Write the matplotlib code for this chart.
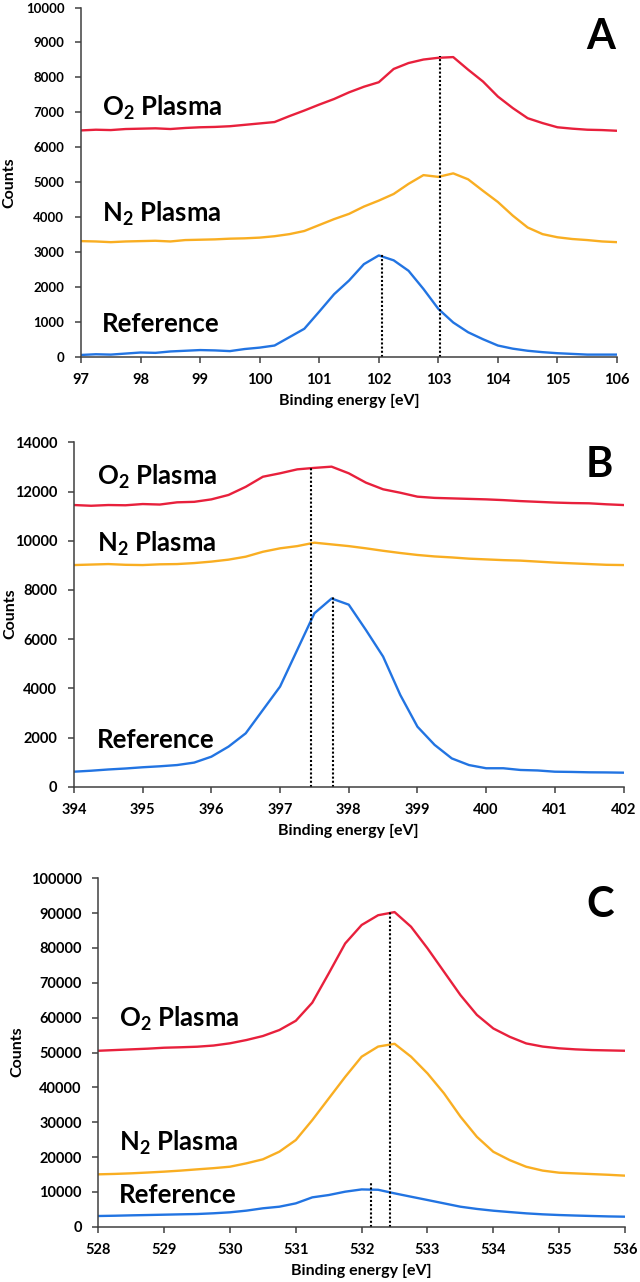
import numpy as np
import matplotlib
matplotlib.use("Agg")
import matplotlib.pyplot as plt

plt.rcParams['font.family'] = ['Lato', 'DejaVu Sans']
plt.rcParams['font.weight'] = 'bold'
plt.rcParams['mathtext.fontset'] = 'custom'
plt.rcParams['mathtext.default'] = 'bf'
plt.rcParams['mathtext.bf'] = 'Lato:bold'
plt.rcParams['mathtext.rm'] = 'Lato:bold'

RED = '#E8203C'
ORANGE = '#F9AE22'
BLUE = '#2274E2'
AXC = '#404040'

# ---- panel A (Si 2p) ----
energy_a = np.arange(97, 106.01, 0.25)
o2_a = [6480, 6500, 6490, 6520, 6530, 6540, 6520, 6550, 6570, 6580, 6600, 6640,
        6680, 6720, 6890, 7050, 7220, 7380, 7570, 7730, 7860, 8240, 8410, 8510,
        8560, 8580, 8220, 7880, 7450, 7120, 6830, 6690, 6570, 6530, 6500, 6490, 6470]
n2_a = [3310, 3300, 3280, 3300, 3310, 3320, 3300, 3340, 3350, 3360, 3380, 3390,
        3410, 3450, 3510, 3600, 3770, 3940, 4090, 4300, 4470, 4660, 4950, 5200,
        5150, 5250, 5080, 4750, 4430, 4040, 3700, 3510, 3420, 3370, 3340, 3300, 3280]
ref_a = [50, 70, 60, 90, 120, 110, 150, 170, 190, 180, 160, 220,
         260, 320, 560, 800, 1290, 1790, 2180, 2650, 2900, 2760, 2460, 1940,
         1370, 980, 700, 500, 320, 230, 170, 130, 100, 80, 60, 60, 60]
peaks_a = [(102.05, 2940), (103.02, 8620)]

# ---- panel B (N 1s) ----
energy_b = np.arange(394, 402.01, 0.25)
o2_b = [11450, 11420, 11450, 11440, 11490, 11470, 11560, 11580, 11680, 11860, 12190,
        12600, 12740, 12900, 12960, 13010, 12740, 12360, 12090, 11950, 11790, 11740,
        11720, 11700, 11680, 11650, 11610, 11580, 11550, 11530, 11520, 11480, 11450]
n2_b = [9010, 9030, 9050, 9020, 9010, 9040, 9050, 9090, 9150, 9230, 9350,
        9550, 9690, 9780, 9920, 9850, 9780, 9690, 9590, 9500, 9420, 9360,
        9320, 9270, 9240, 9210, 9190, 9150, 9110, 9080, 9050, 9020, 9010]
ref_b = [610, 650, 700, 740, 790, 830, 880, 980, 1220, 1630, 2170,
         3120, 4070, 5560, 7050, 7650, 7400, 6370, 5290, 3730, 2440, 1700,
         1150, 880, 750, 750, 680, 660, 610, 600, 585, 580, 570]
peaks_b = [(397.445, 12940), (397.775, 7725)]

# ---- panel C (O 1s) ----
energy_c = np.arange(528, 536.01, 0.25)
o2_c = [50500, 50700, 50900, 51100, 51370, 51500, 51660, 52000, 52640, 53580, 54730,
        56450, 59100, 64300, 72700, 81300, 86600, 89400, 90300, 86100, 79900, 73200,
        66500, 60800, 56900, 54500, 52600, 51700, 51200, 50900, 50700, 50600, 50500]
n2_c = [15030, 15150, 15320, 15550, 15800, 16100, 16460, 16800, 17220, 18190, 19340,
        21530, 24880, 30600, 36800, 43000, 48800, 51700, 52500, 48800, 44000, 38300,
        31600, 25800, 21500, 19100, 17200, 16100, 15500, 15300, 15100, 14900, 14650]
ref_c = [3070, 3150, 3260, 3350, 3450, 3550, 3640, 3850, 4130, 4610, 5280,
         5740, 6700, 8420, 9090, 10050, 10700, 10600, 9570, 8610, 7660, 6700,
         5740, 5100, 4590, 4200, 3830, 3550, 3350, 3200, 3070, 2950, 2870]
peaks_c = [(532.14, 12450), (532.43, 90400)]

panels = [
    dict(E=energy_a, o2=o2_a, n2=n2_a, ref=ref_a, peaks=peaks_a, xlim=(97, 106),
         ylim=(0, 10000), ystep=1000, letter='A', ytick_fs=9.5,
         rect=[81, 7.5, 617, 356.7],
         lab=[(97.35, 6900), (97.35, 3850), (97.35, 700)], let_pos=(105.96, 8815)),
    dict(E=energy_b, o2=o2_b, n2=n2_b, ref=ref_b, peaks=peaks_b, xlim=(394, 402),
         ylim=(0, 14000), ystep=2000, letter='B', ytick_fs=10.5,
         rect=[74, 442.3, 623.5, 786.7],
         lab=[(394.33, 12260), (394.33, 9550), (394.33, 1560)], let_pos=(401.85, 12600)),
    dict(E=energy_c, o2=o2_c, n2=n2_c, ref=ref_c, peaks=peaks_c, xlim=(528, 536),
         ylim=(0, 100000), ystep=10000, letter='C', ytick_fs=10.5,
         rect=[98.3, 878.3, 625, 1226.7],
         lab=[(528.31, 57400), (528.31, 21800), (528.31, 6900)], let_pos=(535.83, 88970)),
]

W, H = 640, 1282
fig = plt.figure(figsize=(W / 100, H / 100), dpi=100)

for p in panels:
    x0, y0, x1, y1 = p['rect']
    ax = fig.add_axes([x0 / W, 1 - y1 / H, (x1 - x0) / W, (y1 - y0) / H])
    ax.plot(p['E'], p['o2'], color=RED, lw=1.7)
    ax.plot(p['E'], p['n2'], color=ORANGE, lw=1.7)
    ax.plot(p['E'], p['ref'], color=BLUE, lw=1.7)
    for e, top in p['peaks']:
        ax.plot([e, e], [0, top], color='black', lw=1.5, ls=(0, (1, 1)))

    ax.set_xlim(*p['xlim'])
    ax.set_ylim(*p['ylim'])
    ax.set_xticks(np.arange(p['xlim'][0], p['xlim'][1] + 1, 1))
    ax.set_yticks(np.arange(p['ylim'][0], p['ylim'][1] + 1, p['ystep']))
    for s in ['top', 'right']:
        ax.spines[s].set_visible(False)
    for s in ['left', 'bottom']:
        ax.spines[s].set_color(AXC)
        ax.spines[s].set_linewidth(1.1)
    ax.tick_params(axis='both', direction='out', length=4, width=1.1, color=AXC, pad=8)
    ax.tick_params(axis='x', labelsize=10.5)
    ax.tick_params(axis='y', labelsize=p['ytick_fs'])
    for t in ax.get_xticklabels() + ax.get_yticklabels():
        t.set_fontweight('bold')

    names = ['O$_2$ Plasma', 'N$_2$ Plasma', 'Reference']
    for (lx, ly), name in zip(p['lab'], names):
        ax.text(lx, ly, name, fontsize=18.5, fontweight='bold', ha='left', va='baseline')
    ax.text(p['let_pos'][0], p['let_pos'][1], p['letter'], fontsize=30,
            fontweight='bold', ha='right', va='baseline')

    xc = (x0 + x1) / 2
    fig.text(xc / W, 1 - (y1 + 44) / H, 'Binding energy [eV]', fontsize=11.5,
             fontweight='bold', ha='center', va='center')

fig.text(9.3 / W, 1 - 183 / H, 'Counts', rotation=90, fontsize=11.5, fontweight='bold',
         ha='center', va='center')
fig.text(10 / W, 1 - 614 / H, 'Counts', rotation=90, fontsize=11.5, fontweight='bold',
         ha='center', va='center')
fig.text(17.5 / W, 1 - 1052 / H, 'Counts', rotation=90, fontsize=11.5, fontweight='bold',
         ha='center', va='center')

fig.savefig('out.png', dpi=100)
